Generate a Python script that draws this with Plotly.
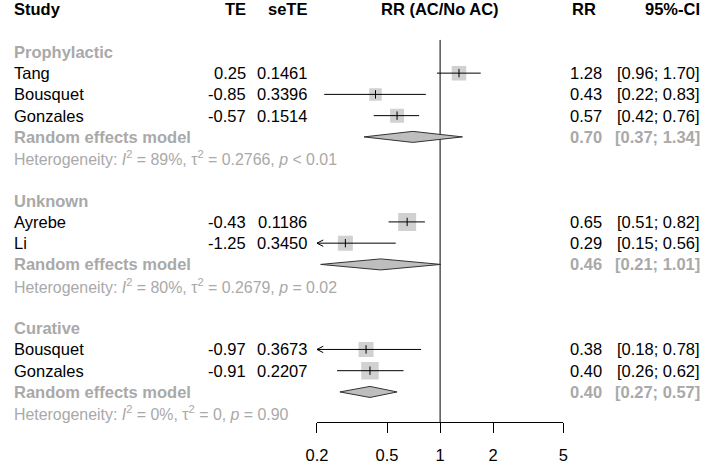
import math
import plotly.graph_objects as go

# ---------------- data ----------------
studies = ["Tang", "Bousquet", "Gonzales", "Ayrebe", "Li", "Bousquet", "Gonzales"]
groups = ["Prophylactic", "Prophylactic", "Prophylactic", "Unknown", "Unknown", "Curative", "Curative"]
te_vals = [0.25, -0.85, -0.57, -0.43, -1.25, -0.97, -0.91]
se_vals = ["0.1461", "0.3396", "0.1514", "0.1186", "0.3450", "0.3673", "0.2207"]
rr_vals = [1.28, 0.43, 0.57, 0.65, 0.29, 0.38, 0.40]
ci_lower = [0.96, 0.22, 0.42, 0.51, 0.15, 0.18, 0.26]
ci_upper = [1.70, 0.83, 0.76, 0.82, 0.56, 0.78, 0.62]
square_px = [14.5, 12.5, 14, 18, 15, 15, 17.5]

subgroups = ["Prophylactic", "Unknown", "Curative"]
re_rr = [0.70, 0.46, 0.40]
re_lower = [0.37, 0.21, 0.27]
re_upper = [1.34, 1.01, 0.57]
het_i2 = ["89%", "80%", "0%"]
het_tau2 = ["0.2766", "0.2679", "0"]
het_p = ["&lt; 0.01", "= 0.02", "= 0.90"]

tick_vals = [0.2, 0.5, 1, 2, 5]
tick_text = ["0.2", "0.5", "1", "2", "5"]
x_min, x_max = 0.2, 5

# ---------------- layout constants ----------------
W, H = 709, 464
FONT = "Liberation Sans, Arial, sans-serif"
FS = 16.5
FS_HET = 15.9
GRAY_TXT = "#A9A9A9"
GRAY_SQ = "#BEBEBE"

def px(x):
    return x / W

# row assignment
rows_group, rows_study, rows_re, rows_het = [], [], [], []
r = 2
for g in subgroups:
    rows_group.append(r); r += 1
    for i, gg in enumerate(groups):
        if gg == g:
            rows_study.append((i, r)); r += 1
    rows_re.append(r); r += 1
    rows_het.append(r); r += 2
study_row = dict(rows_study)

fig = go.Figure()

# reference line at RR = 1
fig.add_trace(go.Scatter(x=[1, 1], y=[-1.437, -19.42], mode="lines",
                         line=dict(color="black", width=1), hoverinfo="skip", showlegend=False))

# squares
fig.add_trace(go.Scatter(
    x=rr_vals, y=[-study_row[i] for i in range(len(studies))], mode="markers",
    marker=dict(symbol="square", size=square_px, color=GRAY_SQ, line=dict(width=0)),
    showlegend=False, hoverinfo="skip"))

# CI lines + arrows
lx, ly = [], []
ax_, ay_ = [], []
f_arrow = 10 ** (6.5 / 180)
for i in range(len(studies)):
    y = -study_row[i]
    lo = max(ci_lower[i], x_min)
    hi = min(ci_upper[i], x_max)
    lx += [lo, hi, None]; ly += [y, y, None]
    if ci_lower[i] < x_min:
        ax_ += [x_min * f_arrow, x_min, x_min * f_arrow, None]
        ay_ += [y + 0.15, y, y - 0.15, None]
fig.add_trace(go.Scatter(x=lx, y=ly, mode="lines", line=dict(color="black", width=1),
                         showlegend=False, hoverinfo="skip"))
fig.add_trace(go.Scatter(x=ax_, y=ay_, mode="lines", line=dict(color="black", width=1),
                         showlegend=False, hoverinfo="skip"))

# point estimate ticks
fig.add_trace(go.Scatter(
    x=rr_vals, y=[-study_row[i] for i in range(len(studies))], mode="markers",
    marker=dict(symbol="line-ns", size=6, line=dict(color="black", width=1)),
    showlegend=False, hoverinfo="skip"))

# diamonds
hh = 0.26
for k in range(len(subgroups)):
    y = -rows_re[k]
    fig.add_trace(go.Scatter(
        x=[re_lower[k], re_rr[k], re_upper[k], re_rr[k], re_lower[k]],
        y=[y, y + hh, y, y - hh, y], mode="lines", fill="toself",
        fillcolor=GRAY_SQ, line=dict(color="#333333", width=1),
        showlegend=False, hoverinfo="skip"))

annotations = []

def txt(x, row, text, anchor="left", color="black", bold=False, size=FS):
    t = f"<b>{text}</b>" if bold else text
    annotations.append(dict(x=px(x), xref="paper", y=-row, yref="y", text=t,
                            showarrow=False, xanchor=anchor, yanchor="middle",
                            font=dict(family=FONT, size=size, color=color),
                            borderpad=0, borderwidth=0))

# headers
txt(3, 0, "Study", bold=True)
txt(240, 0, "TE", anchor="right", bold=True)
txt(303, 0, "seTE", anchor="right", bold=True)
txt(439, 0, "RR (AC/No AC)", anchor="center", bold=True)
txt(599, 0, "RR", anchor="right", bold=True)
txt(705, 0, "95%-CI", anchor="right", bold=True)

for k, g in enumerate(subgroups):
    txt(3, rows_group[k], g, color=GRAY_TXT, bold=True)
    txt(3, rows_re[k], "Random effects model", color=GRAY_TXT, bold=True)
    txt(605, rows_re[k], f"{re_rr[k]:.2f}", anchor="right", color=GRAY_TXT, bold=True)
    txt(705, rows_re[k], f"[{re_lower[k]:.2f}; {re_upper[k]:.2f}]", anchor="right",
        color=GRAY_TXT, bold=True)
    txt(3, rows_het[k],
        f"Heterogeneity: <i>I</i><sup>2</sup> = {het_i2[k]}, τ<sup>2</sup> = {het_tau2[k]}, "
        f"<i>p</i> {het_p[k]}", color=GRAY_TXT, size=FS_HET)

for i, s in enumerate(studies):
    row = study_row[i]
    txt(3, row, s)
    txt(240, row, f"{te_vals[i]:.2f}", anchor="right")
    txt(303, row, se_vals[i], anchor="right")
    txt(605, row, f"{rr_vals[i]:.2f}", anchor="right")
    txt(705, row, f"[{ci_lower[i]:.2f}; {ci_upper[i]:.2f}]", anchor="right")

fig.update_layout(
    width=W, height=H, margin=dict(l=0, r=0, t=0, b=0),
    paper_bgcolor="white", plot_bgcolor="white",
    annotations=annotations,
    font=dict(family=FONT, size=FS, color="black"),
    xaxis=dict(type="log", range=[math.log10(x_min), math.log10(x_max)],
               domain=[313 / W, 565 / W], tickvals=tick_vals, ticktext=tick_text,
               ticks="outside", ticklen=10, tickcolor="black", tickwidth=1,
               showline=True, linecolor="black", linewidth=1,
               showgrid=False, zeroline=False,
               tickfont=dict(family=FONT, size=FS, color="black"),
               ticklabelstandoff=8),
    yaxis=dict(domain=[(H - 423) / H, 1], range=[-19.418, 0.441], visible=False,
               showgrid=False, zeroline=False),
)

fig.write_html("out.html", config={"displayModeBar": False},
               post_script="document.body.style.margin='0px';document.body.style.overflow='hidden';")
